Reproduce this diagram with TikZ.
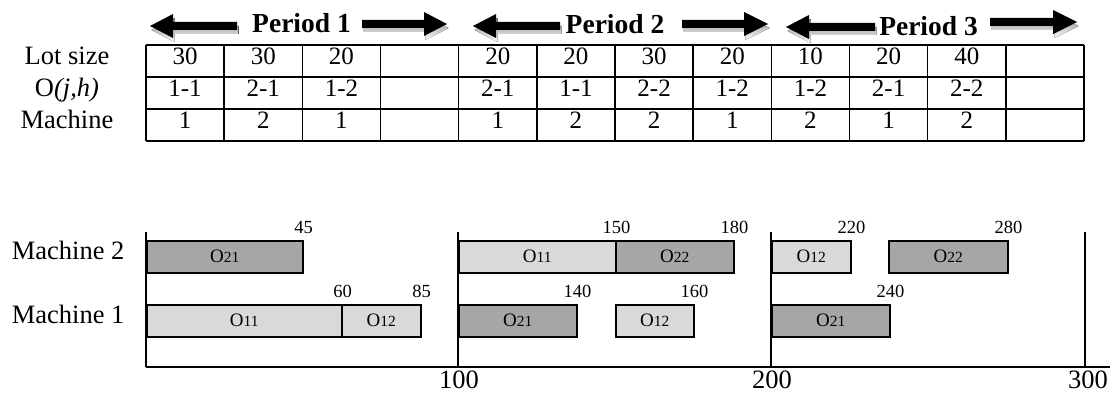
\documentclass[tikz,border=0pt]{standalone}
\usepackage{fontspec}
\setmainfont{Liberation Serif}
\definecolor{opdark}{HTML}{A6A6A6}
\definecolor{oplight}{HTML}{D9D9D9}
\definecolor{shade}{HTML}{A0A0A0}

% block arrow with a soft drop shadow: #1 tip x, #2 head-base x, #3 tail x, #4 axis y
\newcommand\blockarrow[4]{%
  \fill[shade, shift={(1.5,4)}] (#1,#4) -- (#2,#4-12) -- (#2,#4-4) -- (#3,#4-4)
     -- (#3,#4+4) -- (#2,#4+4) -- (#2,#4+12) -- cycle;
  \fill[black] (#1,#4) -- (#2,#4-12) -- (#2,#4-4) -- (#3,#4-4)
     -- (#3,#4+4) -- (#2,#4+4) -- (#2,#4+12) -- cycle;
}
% operation label: large O followed by smaller indices
\newcommand\opname[1]{{\fontsize{19}{22}\selectfont O}{\fontsize{15.5}{18}\selectfont #1}}

\begin{document}
\begin{tikzpicture}[x=1pt,y=-1pt,
    line width=1.6pt,
    lbl/.style={font=\fontsize{26.5}{30}\selectfont, inner sep=0pt, text height=0.66em, text depth=0pt},
    cell/.style={font=\fontsize{25}{28}\selectfont, inner sep=0pt, text height=0.66em, text depth=0pt},
    per/.style={font=\bfseries\fontsize{27.5}{32}\selectfont, inner sep=0pt, anchor=base},
    opbox/.style={draw=black, line width=1.6pt, inner sep=0pt, minimum height=32pt, anchor=north west},
    endlbl/.style={font=\fontsize{18.5}{21}\selectfont, inner sep=0pt, text height=0.66em, text depth=0pt},
  ]
\useasboundingbox (0,0) rectangle (1114,398);

% ---------- period headers ----------
\blockarrow{150}{173}{237}{26}
\blockarrow{447}{424}{362}{24}
\node[per] (p1) at (301.5,33) {Period 1};
\blockarrow{473}{496}{560}{26}
\blockarrow{768}{744}{682}{24}
\node[per] (p2) at (615,34) {Period 2};
\blockarrow{786}{809}{875}{27}
\blockarrow{1077}{1053}{990}{22}
\node[per] (p3) at (928.5,36) {Period 3};

% ---------- table ----------
\def\cw{78.1667}
\foreach \r in {45,77,109,141}
  \draw (146,\r) -- (1084,\r);
\foreach \i in {0,...,12}
  \draw ({146+\cw*\i},45) -- ({146+\cw*\i},141);

\node[lbl] (rowlot) at (67,61) {Lot size};
\node[lbl] (rowop)  at (67,93) {O\textit{(j,h)}};
\node[lbl] (rowmc)  at (67,125) {Machine};

\foreach \c/\v in {0/30,1/30,2/20,4/20,5/20,6/30,7/20,8/10,9/20,10/40}
  \node[cell] (lot\c) at ({146+\cw*(\c+0.5)},61) {\v};
\foreach \c/\v in {0/1-1,1/2-1,2/1-2,4/2-1,5/1-1,6/2-2,7/1-2,8/1-2,9/2-1,10/2-2}
  \node[cell] (op\c) at ({146+\cw*(\c+0.5)},93) {\v};
\foreach \c/\v in {0/1,1/2,2/1,4/1,5/2,6/2,7/1,8/2,9/1,10/2}
  \node[cell] (mc\c) at ({146+\cw*(\c+0.5)},125) {\v};

% ---------- Gantt chart ----------
\coordinate (t0top) at (146,232);  \coordinate (t0) at (146,367);
\coordinate (t1top) at (458,232);  \coordinate (t1) at (458,367);
\coordinate (t2top) at (771,232);  \coordinate (t2) at (771,367);
\coordinate (t3top) at (1085,232); \coordinate (t3) at (1085,367);
\coordinate (axend) at (1110,367);
\draw (t0top) -- (t0);
\draw (t1top) -- (t1);
\draw (t2top) -- (t2);
\draw (t3top) -- (t3);
\draw (t0) -- (axend);

\node[lbl, anchor=west] (m2) at (11,256) {Machine 2};
\node[lbl, anchor=west] (m1) at (11,320) {Machine 1};

\node[lbl] (ax100) at (459,385) {100};
\node[lbl] (ax200) at (772,385) {200};
\node[lbl] (ax300) at (1088,385) {300};

% machine 2 row
\node[opbox, fill=opdark,  minimum width=156pt] (b21a) at (146,240) {\opname{21}};
\node[opbox, fill=oplight, minimum width=157pt] (b11b) at (458,240) {\opname{11}};
\node[opbox, fill=opdark,  minimum width=118pt] (b22b) at (615,240) {\opname{22}};
\node[opbox, fill=oplight, minimum width=79pt]  (b12c) at (771,240) {\opname{12}};
\node[opbox, fill=opdark,  minimum width=119pt] (b22c) at (888,240) {\opname{22}};
% machine 1 row
\node[opbox, fill=oplight, minimum width=195pt] (b11a) at (146,304) {\opname{11}};
\node[opbox, fill=oplight, minimum width=79pt]  (b12a) at (341,304) {\opname{12}};
\node[opbox, fill=opdark,  minimum width=118pt] (b21b) at (458,304) {\opname{21}};
\node[opbox, fill=oplight, minimum width=78pt]  (b12b) at (615,304) {\opname{12}};
\node[opbox, fill=opdark,  minimum width=118pt] (b21c) at (771,304) {\opname{21}};

% completion times
\node[endlbl] (e45)  at ([yshift=10pt]b21a.north east) {45};
\node[endlbl] (e150) at ([yshift=10pt]b11b.north east) {150};
\node[endlbl] (e180) at ([yshift=10pt]b22b.north east) {180};
\node[endlbl] (e220) at ([yshift=10pt]b12c.north east) {220};
\node[endlbl] (e280) at ([yshift=10pt]b22c.north east) {280};
\node[endlbl] (e60)  at ([yshift=10pt]b11a.north east) {60};
\node[endlbl] (e85)  at ([yshift=10pt]b12a.north east) {85};
\node[endlbl] (e140) at ([yshift=10pt]b21b.north east) {140};
\node[endlbl] (e160) at ([yshift=10pt]b12b.north east) {160};
\node[endlbl] (e240) at ([yshift=10pt]b21c.north east) {240};
\end{tikzpicture}
\end{document}
